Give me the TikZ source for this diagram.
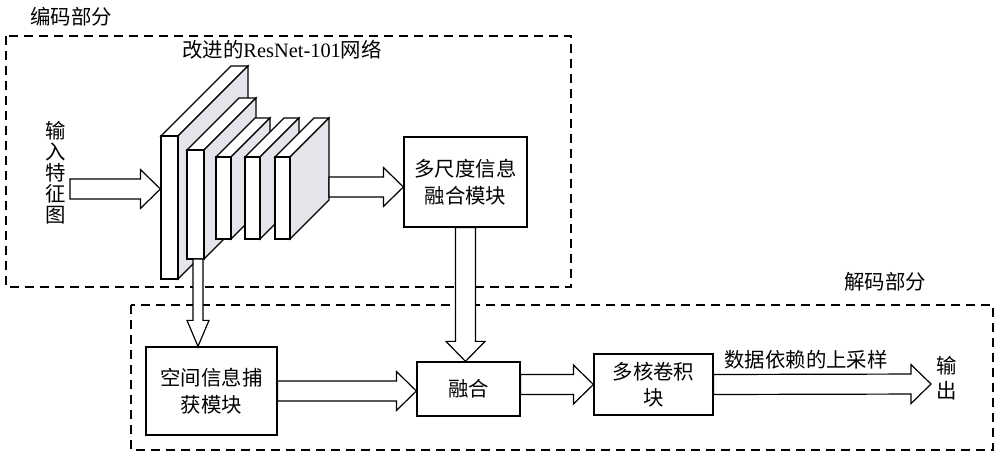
\documentclass[tikz,border=0pt]{standalone}
\usepackage{fontspec}
\setmainfont{Liberation Serif}
\newfontfamily\cjk{Noto Sans CJK SC}
\usetikzlibrary{calc,fit}
\definecolor{slabgray}{RGB}{228,228,234}
\def\shaft{5pt}
\def\head{9.75pt}
\def\headlen{10pt}
\newcommand{\blockarrow}[2]{%
  \draw[blockarr] let \p1=(#1), \p2=(#2), \n1={atan2(\y2-\y1,\x2-\x1)}, \n2={veclen(\x2-\x1,\y2-\y1)} in
    [shift={(\p1)}, rotate=\n1] (0pt,\shaft) -- (\n2-\headlen,\shaft) -- (\n2-\headlen,\head) -- (\n2+0pt,0pt)
    -- (\n2-\headlen,-\head) -- (\n2-\headlen,-\shaft) -- (0pt,-\shaft) -- cycle;}
\begin{document}
\begin{tikzpicture}[x=0.5pt,y=-0.5pt,line width=0.6pt,line join=miter,font=\cjk\fontsize{10.2}{13.5}\selectfont,
  region/.style={dash pattern=on 4.5pt off 3pt},
  box/.style={draw,align=center,inner sep=0pt},
  slabfront/.style={draw,fill=white,inner sep=0pt},
  blockarr/.style={draw,fill=white}]
\useasboundingbox (0,0) rectangle (1000,459);
% the two parts
\draw[region] (6,36) rectangle (571,287);
\draw[region] (131,305) rectangle (993,450);
\node (enclab) at (71,17) {编码部分};
\node (declab) at (885,282) {解码部分};
\node (title) at (282,50) {改进的{\rmfamily ResNet-101}网络};
% stacked slabs of the network
\foreach \n/\xa/\xb/\ya/\yb/\d in {1/161/178/136/279/70,2/187/204/150/259/52,3/216/231/157/239/39,4/245/260/157/239/39,5/275/290/157/239/39}{
  \filldraw[fill=white] (\xa,\ya) -- ++(\d,-\d) -- ++(\xb-\xa,0) -- (\xb,\ya) -- cycle;
  \filldraw[fill=slabgray] (\xb,\ya) -- ++(\d,-\d) -- ++(0,\yb-\ya) -- (\xb,\yb) -- cycle;
  \node[slabfront,fit={(\xa,\ya) (\xb,\yb)}] (s\n) {};
}
\node[align=center,font=\cjk\fontsize{10.2}{10.5}\selectfont] (inlab) at (56,173) {输\\入\\特\\征\\图};
\node[box,minimum width=61.5pt,minimum height=45pt] (ms) at (465.5,182) {多尺度信息\\融合模块};
\node[box,minimum width=65.5pt,minimum height=44pt] (sp) at (211.5,391) {空间信息捕\\获模块};
\node[box,minimum width=51.5pt,minimum height=27pt] (fuse) at (468.5,389) {融合};
\node[box,minimum width=59.5pt,minimum height=30.5pt,font=\cjk\fontsize{10.2}{13}\selectfont] (mk) at (653.5,384.5) {多核卷积\\块};
\node (uplab) at (806,360) {数据依赖的上采样};
\node[align=center,font=\cjk\fontsize{10.2}{12.5}\selectfont] (outlab) at (947,378) {输\\出};
\coordinate (inStart) at (70,189);
\coordinate (netOut) at (329,187);
\coordinate (netDown) at (198,259);
\coordinate (outTip) at (931,384);
% block arrows
\blockarrow{inStart}{s1.west |- inStart}
\blockarrow{netOut}{ms.west |- netOut}
{\def\shaft{2.5pt}\def\head{5.5pt}\def\headlen{13pt}\blockarrow{netDown}{netDown |- sp.north}}
\blockarrow{ms.south}{ms.south |- fuse.north}
\blockarrow{sp.east}{fuse.west |- sp.east}
\blockarrow{fuse.east |- mk.west}{mk.west}
\blockarrow{mk.east}{outTip}
\end{tikzpicture}
\end{document}
